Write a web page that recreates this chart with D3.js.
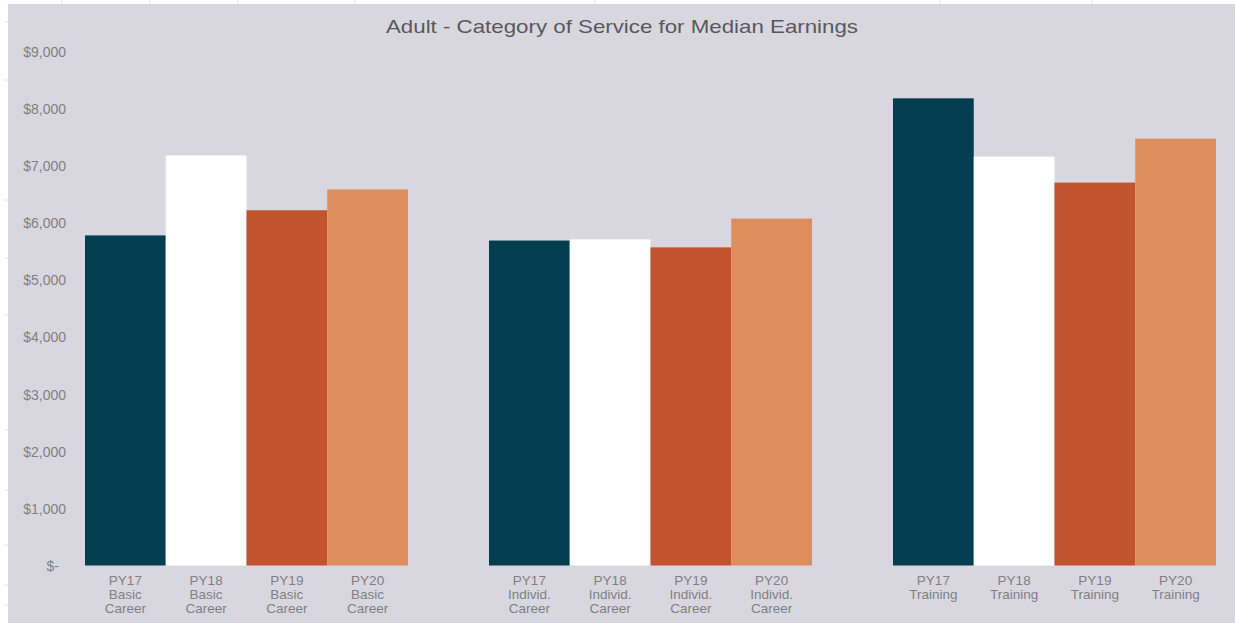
<!DOCTYPE html>
<html>
<head>
<meta charset="utf-8">
<script src="https://cdn.jsdelivr.net/npm/d3@7"></script>
<style>
  html, body { margin: 0; padding: 0; background: #ffffff; }
  svg { display: block; font-family: "Liberation Sans", Arial, sans-serif; }
</style>
</head>
<body>
<svg id="chart" width="1235" height="623"></svg>
<script>
// Service categories (groups) and program years (bars within each group)
const groups = ["Basic Career", "Individ. Career", "Training"];
const years = ["PY17", "PY18", "PY19", "PY20"];

// Median earnings per program year, one array per service category
const basicCareer = [5780, 7180, 6220, 6585];
const individCareer = [5690, 5710, 5570, 6075];
const training = [8180, 7160, 6705, 7475];

// Bar label text lines (category word(s) shown under the year)
const groupLabelLines = [["Basic", "Career"], ["Individ.", "Career"], ["Training"]];

const yTicks = [0, 1000, 2000, 3000, 4000, 5000, 6000, 7000, 8000, 9000];
const yearColors = ["#033e50", "#ffffff", "#c1532f", "#de8e5c"];

const seriesByGroup = [basicCareer, individCareer, training];
const rows = [];
groups.forEach((g, gi) => {
  years.forEach((yr, yi) => {
    rows.push({ group: g, gi, year: yr, yi, value: seriesByGroup[gi][yi] });
  });
});

const svg = d3.select("#chart");
const W = 1235, H = 623;

// Panel background
svg.append("rect").attr("x", 8).attr("y", 4).attr("width", W - 8).attr("height", H - 4)
  .attr("fill", "#d8d7e0");

// faint ruler marks along the outer edge
[62, 150, 238, 355, 595, 940, 1092].forEach(x => {
  svg.append("line").attr("x1", x).attr("x2", x).attr("y1", 0).attr("y2", 4)
    .attr("stroke", "#e4e4ea").attr("stroke-width", 1);
});
[22, 80, 200, 258, 315, 430, 490, 545, 585, 605].forEach(y => {
  svg.append("line").attr("x1", 4).attr("x2", 8).attr("y1", y).attr("y2", y)
    .attr("stroke", "#e4e4ea").attr("stroke-width", 1);
});

const plotTop = 51.5, plotBottom = 565.5;
const y = d3.scaleLinear().domain([0, 9000]).range([plotBottom, plotTop]);

// group layout: each group spans 4 adjacent bars, with gaps between groups
const groupStarts = d3.scaleLinear().domain([0, 2]).range([85, 893]);
const groupWidth = 323;
const x1 = d3.scaleBand().domain(years).range([0, groupWidth]).padding(0);

// Y axis
const yAxis = d3.axisLeft(y)
  .tickValues(yTicks)
  .tickSize(0)
  .tickPadding(0)
  .tickFormat(d => d === 0 ? "$-" : d3.format("$,")(d));

const yg = svg.append("g").attr("transform", "translate(66,0)").call(yAxis);
yg.select(".domain").remove();
yg.selectAll("text")
  .attr("fill", "#7f7f84")
  .attr("font-size", "14px")
  .attr("font-family", "Liberation Sans, Arial, sans-serif")
  .attr("dy", "0.35em");
yg.selectAll(".tick").filter(d => d === 0).select("text").attr("x", -7);

// Bars
svg.append("g").selectAll("rect")
  .data(rows)
  .join("rect")
  .attr("x", d => groupStarts(d.gi) + x1(d.year))
  .attr("y", d => y(d.value))
  .attr("width", x1.bandwidth())
  .attr("height", d => y(0) - y(d.value))
  .attr("fill", d => yearColors[d.yi]);

// Category labels under each bar
const lbl = svg.append("g").attr("fill", "#7f7f84").attr("font-size", "13.5px")
  .attr("text-anchor", "middle");
rows.forEach(d => {
  const cx = groupStarts(d.gi) + x1(d.year) + x1.bandwidth() / 2;
  const lines = [d.year].concat(groupLabelLines[d.gi]);
  const t = lbl.append("text").attr("x", cx).attr("y", 584.5);
  lines.forEach((s, i) => {
    t.append("tspan").attr("x", cx).attr("dy", i === 0 ? 0 : 14).text(s);
  });
});

// Title
svg.append("text")
  .attr("x", 622).attr("y", 32.5)
  .attr("text-anchor", "middle")
  .attr("font-size", "18.5px")
  .attr("textLength", 472)
  .attr("lengthAdjust", "spacingAndGlyphs")
  .attr("fill", "#58585c")
  .text("Adult - Category of Service for Median Earnings");
</script>
</body>
</html>
